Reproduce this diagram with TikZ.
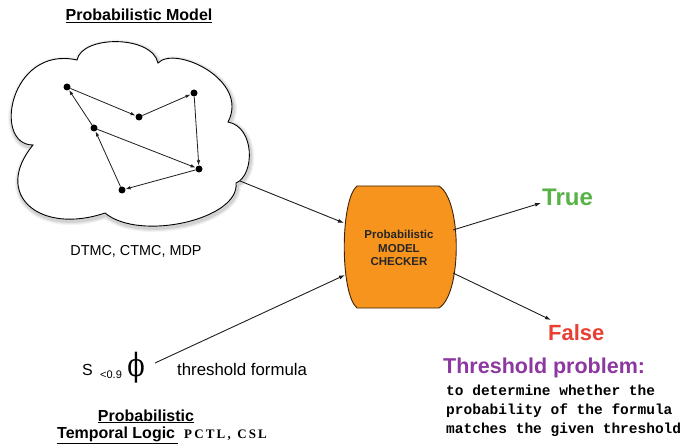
\documentclass[tikz,border=0pt]{standalone}
\usepackage{fontspec}
\setmainfont{Liberation Sans}
\newfontfamily\monofont{Liberation Mono}
\newfontfamily\serifface{Liberation Serif}
\newfontfamily\greekface{DejaVu Serif}
\usetikzlibrary{arrows.meta}

\definecolor{chkorange}{RGB}{247,148,30}
\definecolor{chkborder}{RGB}{60,35,10}
\definecolor{truegreen}{RGB}{88,178,72}
\definecolor{falsered}{RGB}{232,62,52}
\definecolor{probpurple}{RGB}{140,56,160}
\definecolor{inkline}{RGB}{30,30,30}

% outline of the model cloud: six puffs, clockwise from the left dent
\newcommand\cloudoutline{(33,300)
  .. controls (-8,300) and (10,400) .. (77,385)
  .. controls (82,410) and (152,410) .. (158,382)
  .. controls (175,400) and (250,365) .. (228,323)
  .. controls (255,318) and (255,270) .. (236,262)
  .. controls (240,226) and (140,203) .. (105,232)
  .. controls (40,210) and (-8,250) .. (33,300) -- cycle}

\begin{document}
\begin{tikzpicture}[x=1pt,y=1pt,
  dot/.style={circle,fill=black,inner sep=0pt,minimum size=7pt},
  edge/.style={draw=inkline,line width=0.8pt,-{Latex[length=5pt,width=3.5pt]}},
  flow/.style={draw=inkline,line width=0.9pt,-{Latex[length=6pt,width=4pt]}},
  lbl/.style={inner sep=0pt,anchor=base west},
  fs/.style={font=\fontsize{#1}{#1}\selectfont},
]
\useasboundingbox (0,0) rectangle (682,445);

% cloud with soft shadow
\foreach \w/\o in {8/0.04,6/0.06,3.5/0.09}
  \draw[black,opacity=\o,line width=\w pt,shift={(1,-2)}] \cloudoutline;
\draw[fill=white,draw=black,line width=0.9pt] \cloudoutline;

% Markov chain inside the cloud
\node[dot] (a) at (67,358) {};
\node[dot] (b) at (139,328) {};
\node[dot] (c) at (194,352) {};
\node[dot] (d) at (94,317) {};
\node[dot] (e) at (199,276) {};
\node[dot] (f) at (122,255) {};
\draw[edge] (a) -- (b);
\draw[edge] (b) -- (c);
\draw[edge] (c) -- (e);
\draw[edge] (d) -- (e);
\draw[edge] (e) -- (f);
\draw[edge] (f) -- (d);
\draw[edge] (d) -- (a);

% titles and labels on the left
\node[lbl,anchor=base,font=\bfseries\fontsize{16}{16}\selectfont] (title) at (139,424) {\underline{Probabilistic Model}};
\node[lbl,anchor=base,fs=14.4] (classes) at (136,190) {DTMC, CTMC, MDP};

% model checker
\draw[draw=chkborder,fill=chkorange,line width=0.9pt]
  (357,259) -- (439,259) .. controls (462,245) and (462,151) .. (439,137)
  -- (357,137) .. controls (340,151) and (340,245) .. (357,259) -- cycle;
\node[align=center,text=black!85,font=\bfseries\fontsize{11.5}{13.5}\selectfont] (checker) at (399,197) {Probabilistic\\MODEL\\CHECKER};

% threshold formula
\node[lbl,fs=16] (s) at (82,70) {S};
\node[lbl,fs=11] (sub) at (100,67) {<0.9};
\node[inner sep=0pt,xscale=0.8,font=\greekface\fontsize{32}{32}\selectfont] (phi) at (136,77) {ϕ};
\node[lbl,fs=16.8] (tf) at (177,70) {threshold formula};
\coordinate (phiout) at (155,82);

\node[lbl,anchor=base,font=\bfseries\fontsize{16}{16}\selectfont] (ptl1) at (146,24) {\underline{Probabilistic}};
\node[lbl,font=\bfseries\fontsize{16}{16}\selectfont] (ptl2) at (57,7) {\underline{Temporal Logic\,}};
\node[lbl,font=\serifface\bfseries\fontsize{13}{13}\selectfont] (logics) at (184,7) {P\,C\,T\,L\,,\ \ C\,S\,L};

% results
\node[lbl,text=truegreen,font=\bfseries\fontsize{24}{24}\selectfont] (true) at (542,240) {True};
\node[lbl,text=falsered,font=\bfseries\fontsize{22}{22}\selectfont] (false) at (548,105) {False};

\node[lbl,text=probpurple,font=\bfseries\fontsize{21.5}{21.5}\selectfont] (tp) at (443,72) {Threshold problem:};
\node[lbl,font=\monofont\bfseries\fontsize{14.5}{14.5}\selectfont] (tl1) at (446,50) {to determine whether the};
\node[lbl,font=\monofont\bfseries\fontsize{14.5}{14.5}\selectfont] (tl2) at (446,31) {probability of the formula};
\node[lbl,font=\monofont\bfseries\fontsize{14.5}{14.5}\selectfont] (tl3) at (446,12) {matches the given threshold};

% connectors
\coordinate (cloudout) at (240,264);
\coordinate (chkin1) at (344,222);
\coordinate (chkin2) at (345,170);
\coordinate (chkout1) at (453,215);
\coordinate (chkout2) at (453,172);
\coordinate (trueend) at (541,242);
\coordinate (falseend) at (551,125);
\draw[flow] (cloudout) -- (chkin1);
\draw[flow] (phiout) -- (chkin2);
\draw[flow] (chkout1) -- (trueend);
\draw[flow] (chkout2) -- (falseend);
\end{tikzpicture}
\end{document}
